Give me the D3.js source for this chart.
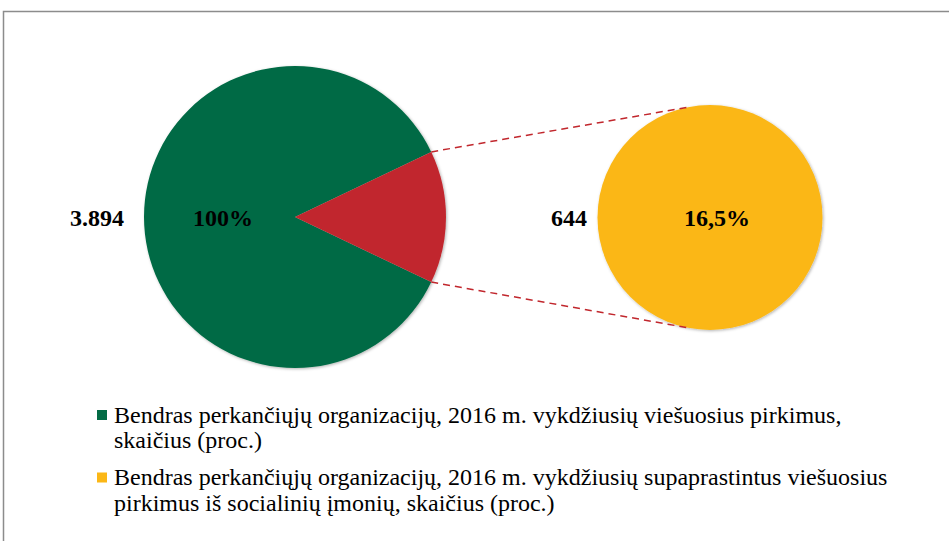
<!DOCTYPE html>
<html>
<head>
<meta charset="utf-8">
<script src="https://cdn.jsdelivr.net/npm/d3@7"></script>
<style>
  body { margin: 0; background: #fff; }
  svg text { font-family: "Liberation Serif", "Times New Roman", serif; }
</style>
</head>
<body>
<svg id="chart" width="949" height="541"></svg>
<script>
// main pie: all organisations vs. the ones that used simplified procurement from social enterprises
var mainLabels = ["Kitos", "Socialinės įmonės"];
var mainValues = [3894, 644];
var mainColors = ["#036b45", "#c1272d"];
var secondValues = [644];
var secondColor = "#fbb716";
var valueLabels = ["3.894", "644"];
var pctLabels = ["100%", "16,5%"];
var legendItems = [
    { color: "#036b45", lines: ["Bendras perkančiųjų organizacijų, 2016 m. vykdžiusių viešuosius pirkimus,", "skaičius (proc.)"] },
    { color: "#fbb716", lines: ["Bendras perkančiųjų organizacijų, 2016 m. vykdžiusių supaprastintus viešuosius", "pirkimus iš socialinių įmonių, skaičius (proc.)"] }
];

var svg = d3.select("#chart");

// outer frame (runs off the right and bottom edges)
svg.append("rect")
    .attr("x", 3.5).attr("y", 11.5)
    .attr("width", 960).attr("height", 560)
    .attr("fill", "none").attr("stroke", "#8c8c8c").attr("stroke-width", 1.5);

var defs = svg.append("defs");
var shadow = defs.append("filter").attr("id", "shadow")
    .attr("x", "-10%").attr("y", "-10%").attr("width", "120%").attr("height", "120%");
shadow.append("feDropShadow")
    .attr("dx", 1).attr("dy", 1).attr("stdDeviation", 1.5)
    .attr("flood-color", "#000").attr("flood-opacity", 0.3);

var c1 = { x: 295, y: 217, r: 151 };
var c2 = { x: 710, y: 217.5, r: 112.5 };

// rotate so the small slice is centred on the right-hand horizontal
var smallShare = mainValues[1] / d3.sum(mainValues);
var halfAngle = Math.PI * smallShare;
var pie = d3.pie().sort(null)
    .startAngle(Math.PI / 2 + halfAngle)
    .endAngle(Math.PI / 2 + halfAngle + 2 * Math.PI);
var arc = d3.arc().innerRadius(0).outerRadius(c1.r);

var g1 = svg.append("g")
    .attr("transform", "translate(" + c1.x + "," + c1.y + ")")
    .attr("filter", "url(#shadow)");
g1.selectAll("path")
    .data(pie(mainValues))
    .enter().append("path")
    .attr("d", arc)
    .attr("fill", function(d, i) { return mainColors[i]; });

// second pie
var pie2 = d3.pie().sort(null);
var arc2 = d3.arc().innerRadius(0).outerRadius(c2.r);
svg.append("g")
    .attr("transform", "translate(" + c2.x + "," + c2.y + ")")
    .attr("filter", "url(#shadow)")
    .selectAll("path")
    .data(pie2(secondValues))
    .enter().append("path")
    .attr("d", arc2)
    .attr("fill", secondColor);

// connector lines from the small slice to the second pie
var a0 = Math.PI / 2 - halfAngle, a1 = Math.PI / 2 + halfAngle;
var tip = 12 * Math.PI / 180;
var connectors = [
    [[c1.x + c1.r * Math.sin(a0), c1.y - c1.r * Math.cos(a0)], [c2.x - c2.r * Math.sin(tip), c2.y - c2.r * Math.cos(tip)]],
    [[c1.x + c1.r * Math.sin(a1), c1.y - c1.r * Math.cos(a1)], [c2.x - c2.r * Math.sin(tip), c2.y + c2.r * Math.cos(tip)]]
];
svg.selectAll("line.conn")
    .data(connectors)
    .enter().append("line")
    .attr("class", "conn")
    .attr("x1", function(d) { return d[0][0]; })
    .attr("y1", function(d) { return d[0][1]; })
    .attr("x2", function(d) { return d[1][0]; })
    .attr("y2", function(d) { return d[1][1]; })
    .attr("stroke", "#c1272d").attr("stroke-width", 1.5)
    .attr("stroke-dasharray", "7,5");

// data labels
var labelY = 226;
var fs = 24;
svg.append("text").attr("x", 124).attr("y", labelY).attr("text-anchor", "end")
    .attr("font-size", fs).attr("font-weight", "bold").text(valueLabels[0]);
svg.append("text").attr("x", 223).attr("y", labelY).attr("text-anchor", "middle")
    .attr("font-size", fs).attr("font-weight", "bold").text(pctLabels[0]);
svg.append("text").attr("x", 587).attr("y", labelY).attr("text-anchor", "end")
    .attr("font-size", fs).attr("font-weight", "bold").text(valueLabels[1]);
svg.append("text").attr("x", 717).attr("y", labelY).attr("text-anchor", "middle")
    .attr("font-size", fs).attr("font-weight", "bold").text(pctLabels[1]);

// legend
var legendTop = [422.5, 485];
var lineH = 25.5;
var lg = svg.selectAll("g.legend")
    .data(legendItems)
    .enter().append("g")
    .attr("class", "legend")
    .attr("transform", function(d, i) { return "translate(0," + legendTop[i] + ")"; });
lg.append("rect")
    .attr("x", 97).attr("y", -12.5)
    .attr("width", 10).attr("height", 10)
    .attr("fill", function(d) { return d.color; });
lg.append("text")
    .attr("x", 114).attr("font-size", fs)
    .selectAll("tspan")
    .data(function(d) { return d.lines; })
    .enter().append("tspan")
    .attr("x", 114)
    .attr("y", function(d, i) { return i * lineH; })
    .text(function(d) { return d; });
</script>
</body>
</html>
